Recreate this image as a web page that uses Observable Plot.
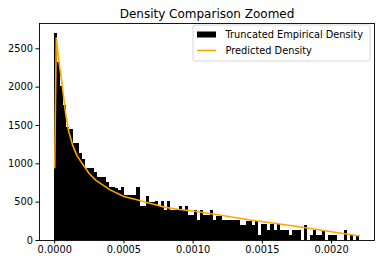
<!DOCTYPE html>
<html>
<head>
<meta charset="utf-8">
<script src="https://cdn.jsdelivr.net/npm/d3@7"></script>
<script src="https://cdn.jsdelivr.net/npm/@observablehq/plot@0.6"></script>
<style>
  html, body { margin: 0; padding: 0; background: #fff; }
  #chart svg { display: block; }
</style>
</head>
<body>
<div id="chart"></div>
<script>
const title = "Density Comparison Zoomed";
const legendLabels = ["Truncated Empirical Density", "Predicted Density"];

// Histogram: 100 bins over [0, 0.0022]
const binStart = 0;
const binEnd = 0.0022;
const histValues = [
  2696, 2323, 2006, 1759, 1480, 1443, 1269, 1261, 1131, 1060,
  936, 936, 936, 892, 827, 827, 827, 762, 697, 697,
  680, 654, 697, 589, 589, 589, 589, 697, 446, 446,
  576, 502, 502, 511, 446, 511, 394, 511, 394, 394,
  394, 446, 394, 446, 329, 329, 385, 264, 385, 329,
  329, 385, 264, 307, 307, 255, 255, 255, 255, 255,
  255, 199, 199, 243, 243, 199, 243, 69, 208, 208,
  134, 208, 134, 208, 134, 134, 134, 65, 134, 134,
  134, 0, 199, 0, 69, 134, 69, 69, 121, 0,
  69, 69, 69, 0, 0, 134, 0, 69, 0, 60
];

// Predicted density curve
const lineX = [0, 0.000011, 0.00003, 0.00005, 0.00008, 0.0001, 0.00013, 0.00016, 0.0002, 0.00025, 0.0003, 0.0004, 0.0005, 0.0006, 0.0007, 0.0008, 0.0009, 0.001, 0.0012, 0.0014, 0.0016, 0.0018, 0.002, 0.0022];
const lineY = [950, 2640, 2340, 2080, 1640, 1430, 1240, 1110, 1000, 870, 780, 660, 575, 528, 478, 432, 405, 385, 330, 270, 222, 170, 115, 58];

const xTicks = [0, 0.0005, 0.001, 0.0015, 0.002];
const yTicks = [0, 500, 1000, 1500, 2000, 2500];

const binW = (binEnd - binStart) / histValues.length;
const bins = histValues.map((v, i) => ({x1: binStart + i * binW, x2: binStart + (i + 1) * binW, y: v}));
const curve = lineX.map((x, i) => ({x, y: lineY[i]}));

const FONT = "DejaVu Sans, sans-serif";
const FS = 9.8;

const plot = Plot.plot({
  width: 381,
  height: 264,
  marginLeft: 39,
  marginRight: 7,
  marginTop: 23,
  marginBottom: 24,
  style: {fontFamily: FONT, fontSize: FS + "px", color: "#000", background: "#fff"},
  x: {domain: [-0.00011, 0.00231]},
  y: {domain: [0, 2830]},
  marks: [
    Plot.rectY(bins, {x1: "x1", x2: "x2", y: "y", fill: "#000", shapeRendering: "crispEdges"}),
    Plot.line(curve, {x: "x", y: "y", stroke: "#FFA500", strokeWidth: 1.6}),
    Plot.frame({stroke: "#000", strokeWidth: 0.9}),
    Plot.axisX({ticks: xTicks, tickFormat: d3.format(".4f"), tickSize: 3.5, tickPadding: 2.5, label: null, fontSize: FS}),
    Plot.axisY({ticks: yTicks, tickFormat: d => String(d), tickSize: 3.5, tickPadding: 3, label: null, fontSize: FS}),
    Plot.text([title], {frameAnchor: "top", dy: -6, lineAnchor: "bottom", fontSize: 12, fill: "#000", text: d => d})
  ]
});

document.getElementById("chart").appendChild(plot);

// Legend (matplotlib style, upper right)
const svg = d3.select(plot);
const lg = svg.append("g").attr("font-family", FONT).attr("font-size", FS).attr("text-anchor", "start");
lg.append("rect").attr("x", 193).attr("y", 25).attr("width", 177).attr("height", 36)
  .attr("rx", 2).attr("fill", "#fff").attr("fill-opacity", 0.8).attr("stroke", "#cccccc").attr("stroke-width", 0.8);
lg.append("rect").attr("x", 197).attr("y", 31.5).attr("width", 19).attr("height", 6).attr("fill", "#000");
lg.append("text").attr("x", 225.5).attr("y", 34.5).attr("dy", "0.35em").attr("fill", "#000").text(legendLabels[0]);
lg.append("line").attr("x1", 197).attr("x2", 216).attr("y1", 50.5).attr("y2", 50.5).attr("stroke", "#FFA500").attr("stroke-width", 1.6);
lg.append("text").attr("x", 225.5).attr("y", 50.5).attr("dy", "0.35em").attr("fill", "#000").text(legendLabels[1]);
</script>
</body>
</html>
